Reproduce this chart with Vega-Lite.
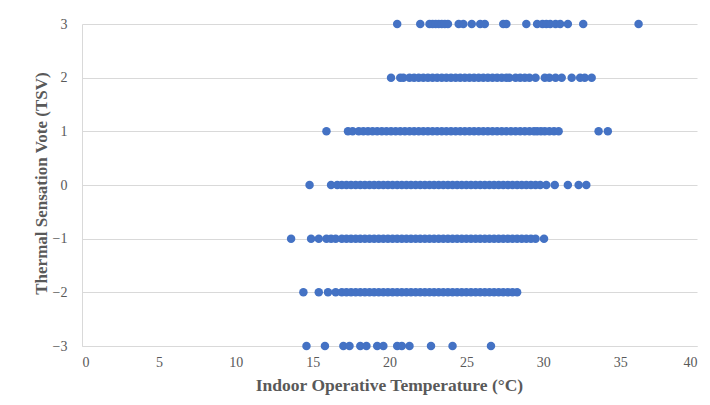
{
  "$schema": "https://vega.github.io/schema/vega-lite/v6.json",
  "width": 615,
  "height": 322,
  "autosize": {"type": "none"},
  "padding": {"left": 82, "top": 24, "right": 13, "bottom": 59},
  "background": "white",
  "config": {
    "view": {"stroke": null},
    "font": "Liberation Serif",
    "axis": {
      "labelFont": "Liberation Serif",
      "titleFont": "Liberation Serif",
      "labelColor": "#595959",
      "titleColor": "#595959",
      "labelFontSize": 14,
      "titleFontSize": 17.5,
      "titleFontWeight": "bold",
      "ticks": false,
      "domainColor": "#d9d9d9",
      "gridColor": "#d9d9d9",
      "gridWidth": 1
    }
  },
  "data": {
    "values": [
      {"t": 20.5, "v": 3}, {"t": 22.0, "v": 3}, {"t": 22.6, "v": 3}, {"t": 22.8, "v": 3}, {"t": 23.0, "v": 3}, {"t": 23.2, "v": 3}, {"t": 23.4, "v": 3}, {"t": 23.6, "v": 3}, {"t": 23.8, "v": 3}, {"t": 24.5, "v": 3}, {"t": 24.8, "v": 3}, {"t": 25.35, "v": 3}, {"t": 25.9, "v": 3}, {"t": 26.2, "v": 3}, {"t": 27.4, "v": 3}, {"t": 27.6, "v": 3}, {"t": 28.9, "v": 3}, {"t": 29.6, "v": 3}, {"t": 29.95, "v": 3}, {"t": 30.2, "v": 3}, {"t": 30.45, "v": 3}, {"t": 30.8, "v": 3}, {"t": 31.1, "v": 3}, {"t": 31.6, "v": 3}, {"t": 32.6, "v": 3}, {"t": 36.2, "v": 3},

      {"t": 20.1, "v": 2}, {"t": 20.7, "v": 2}, {"t": 20.9, "v": 2}, {"t": 21.3, "v": 2}, {"t": 21.6, "v": 2}, {"t": 21.9, "v": 2}, {"t": 22.2, "v": 2}, {"t": 22.5, "v": 2}, {"t": 22.8, "v": 2}, {"t": 23.1, "v": 2}, {"t": 23.4, "v": 2}, {"t": 23.7, "v": 2}, {"t": 24.0, "v": 2}, {"t": 24.3, "v": 2}, {"t": 24.6, "v": 2}, {"t": 24.9, "v": 2}, {"t": 25.2, "v": 2}, {"t": 25.5, "v": 2}, {"t": 25.8, "v": 2}, {"t": 26.1, "v": 2}, {"t": 26.4, "v": 2}, {"t": 26.7, "v": 2}, {"t": 27.0, "v": 2}, {"t": 27.3, "v": 2}, {"t": 27.6, "v": 2}, {"t": 27.8, "v": 2}, {"t": 28.2, "v": 2}, {"t": 28.5, "v": 2}, {"t": 28.8, "v": 2}, {"t": 29.1, "v": 2}, {"t": 29.5, "v": 2}, {"t": 30.1, "v": 2}, {"t": 30.4, "v": 2}, {"t": 30.8, "v": 2}, {"t": 31.2, "v": 2}, {"t": 31.85, "v": 2}, {"t": 32.4, "v": 2}, {"t": 32.7, "v": 2}, {"t": 33.15, "v": 2},

      {"t": 15.9, "v": 1}, {"t": 17.3, "v": 1}, {"t": 17.6, "v": 1}, {"t": 18.0, "v": 1}, {"t": 18.3, "v": 1}, {"t": 18.6, "v": 1}, {"t": 18.9, "v": 1}, {"t": 19.2, "v": 1}, {"t": 19.5, "v": 1}, {"t": 19.8, "v": 1}, {"t": 20.1, "v": 1}, {"t": 20.4, "v": 1}, {"t": 20.7, "v": 1}, {"t": 21.0, "v": 1}, {"t": 21.3, "v": 1}, {"t": 21.6, "v": 1}, {"t": 21.9, "v": 1}, {"t": 22.2, "v": 1}, {"t": 22.5, "v": 1}, {"t": 22.8, "v": 1}, {"t": 23.1, "v": 1}, {"t": 23.4, "v": 1}, {"t": 23.7, "v": 1}, {"t": 24.0, "v": 1}, {"t": 24.3, "v": 1}, {"t": 24.6, "v": 1}, {"t": 24.9, "v": 1}, {"t": 25.2, "v": 1}, {"t": 25.5, "v": 1}, {"t": 25.8, "v": 1}, {"t": 26.1, "v": 1}, {"t": 26.4, "v": 1}, {"t": 26.7, "v": 1}, {"t": 27.0, "v": 1}, {"t": 27.3, "v": 1}, {"t": 27.6, "v": 1}, {"t": 27.9, "v": 1}, {"t": 28.2, "v": 1}, {"t": 28.5, "v": 1}, {"t": 28.8, "v": 1}, {"t": 29.1, "v": 1}, {"t": 29.4, "v": 1}, {"t": 29.6, "v": 1}, {"t": 29.85, "v": 1}, {"t": 30.1, "v": 1}, {"t": 30.4, "v": 1}, {"t": 30.7, "v": 1}, {"t": 31.0, "v": 1}, {"t": 33.6, "v": 1}, {"t": 34.2, "v": 1},

      {"t": 14.8, "v": 0}, {"t": 16.2, "v": 0}, {"t": 16.6, "v": 0}, {"t": 16.9, "v": 0}, {"t": 17.2, "v": 0}, {"t": 17.5, "v": 0}, {"t": 17.8, "v": 0}, {"t": 18.1, "v": 0}, {"t": 18.4, "v": 0}, {"t": 18.7, "v": 0}, {"t": 19.0, "v": 0}, {"t": 19.3, "v": 0}, {"t": 19.6, "v": 0}, {"t": 19.9, "v": 0}, {"t": 20.2, "v": 0}, {"t": 20.5, "v": 0}, {"t": 20.8, "v": 0}, {"t": 21.1, "v": 0}, {"t": 21.4, "v": 0}, {"t": 21.7, "v": 0}, {"t": 22.0, "v": 0}, {"t": 22.3, "v": 0}, {"t": 22.6, "v": 0}, {"t": 22.9, "v": 0}, {"t": 23.2, "v": 0}, {"t": 23.5, "v": 0}, {"t": 23.8, "v": 0}, {"t": 24.1, "v": 0}, {"t": 24.4, "v": 0}, {"t": 24.7, "v": 0}, {"t": 25.0, "v": 0}, {"t": 25.3, "v": 0}, {"t": 25.6, "v": 0}, {"t": 25.9, "v": 0}, {"t": 26.2, "v": 0}, {"t": 26.5, "v": 0}, {"t": 26.8, "v": 0}, {"t": 27.1, "v": 0}, {"t": 27.4, "v": 0}, {"t": 27.7, "v": 0}, {"t": 28.0, "v": 0}, {"t": 28.3, "v": 0}, {"t": 28.6, "v": 0}, {"t": 28.9, "v": 0}, {"t": 29.2, "v": 0}, {"t": 29.5, "v": 0}, {"t": 29.8, "v": 0}, {"t": 30.2, "v": 0}, {"t": 30.75, "v": 0}, {"t": 31.6, "v": 0}, {"t": 32.3, "v": 0}, {"t": 32.8, "v": 0},

      {"t": 13.6, "v": -1}, {"t": 14.9, "v": -1}, {"t": 15.4, "v": -1}, {"t": 15.9, "v": -1}, {"t": 16.2, "v": -1}, {"t": 16.5, "v": -1}, {"t": 16.9, "v": -1}, {"t": 17.2, "v": -1}, {"t": 17.5, "v": -1}, {"t": 17.8, "v": -1}, {"t": 18.1, "v": -1}, {"t": 18.4, "v": -1}, {"t": 18.7, "v": -1}, {"t": 19.0, "v": -1}, {"t": 19.3, "v": -1}, {"t": 19.6, "v": -1}, {"t": 19.9, "v": -1}, {"t": 20.2, "v": -1}, {"t": 20.5, "v": -1}, {"t": 20.8, "v": -1}, {"t": 21.1, "v": -1}, {"t": 21.4, "v": -1}, {"t": 21.7, "v": -1}, {"t": 22.0, "v": -1}, {"t": 22.3, "v": -1}, {"t": 22.6, "v": -1}, {"t": 22.9, "v": -1}, {"t": 23.2, "v": -1}, {"t": 23.5, "v": -1}, {"t": 23.8, "v": -1}, {"t": 24.1, "v": -1}, {"t": 24.4, "v": -1}, {"t": 24.7, "v": -1}, {"t": 25.0, "v": -1}, {"t": 25.3, "v": -1}, {"t": 25.6, "v": -1}, {"t": 25.9, "v": -1}, {"t": 26.2, "v": -1}, {"t": 26.5, "v": -1}, {"t": 26.8, "v": -1}, {"t": 27.1, "v": -1}, {"t": 27.4, "v": -1}, {"t": 27.7, "v": -1}, {"t": 28.0, "v": -1}, {"t": 28.3, "v": -1}, {"t": 28.6, "v": -1}, {"t": 28.9, "v": -1}, {"t": 29.2, "v": -1}, {"t": 29.5, "v": -1}, {"t": 30.05, "v": -1},

      {"t": 14.4, "v": -2}, {"t": 15.4, "v": -2}, {"t": 16.0, "v": -2}, {"t": 16.5, "v": -2}, {"t": 16.9, "v": -2}, {"t": 17.2, "v": -2}, {"t": 17.5, "v": -2}, {"t": 17.8, "v": -2}, {"t": 18.1, "v": -2}, {"t": 18.4, "v": -2}, {"t": 18.7, "v": -2}, {"t": 19.0, "v": -2}, {"t": 19.3, "v": -2}, {"t": 19.6, "v": -2}, {"t": 19.9, "v": -2}, {"t": 20.2, "v": -2}, {"t": 20.5, "v": -2}, {"t": 20.8, "v": -2}, {"t": 21.1, "v": -2}, {"t": 21.4, "v": -2}, {"t": 21.7, "v": -2}, {"t": 22.0, "v": -2}, {"t": 22.3, "v": -2}, {"t": 22.6, "v": -2}, {"t": 22.9, "v": -2}, {"t": 23.2, "v": -2}, {"t": 23.5, "v": -2}, {"t": 23.8, "v": -2}, {"t": 24.1, "v": -2}, {"t": 24.4, "v": -2}, {"t": 24.7, "v": -2}, {"t": 25.0, "v": -2}, {"t": 25.3, "v": -2}, {"t": 25.6, "v": -2}, {"t": 25.9, "v": -2}, {"t": 26.2, "v": -2}, {"t": 26.5, "v": -2}, {"t": 26.8, "v": -2}, {"t": 27.1, "v": -2}, {"t": 27.4, "v": -2}, {"t": 27.7, "v": -2}, {"t": 28.0, "v": -2}, {"t": 28.3, "v": -2},

      {"t": 14.6, "v": -3}, {"t": 15.8, "v": -3}, {"t": 17.0, "v": -3}, {"t": 17.4, "v": -3}, {"t": 18.1, "v": -3}, {"t": 18.5, "v": -3}, {"t": 19.2, "v": -3}, {"t": 19.6, "v": -3}, {"t": 20.5, "v": -3}, {"t": 20.8, "v": -3}, {"t": 21.3, "v": -3}, {"t": 22.7, "v": -3}, {"t": 24.1, "v": -3}, {"t": 26.6, "v": -3}
    ]
  },
  "mark": {"type": "circle", "size": 72, "color": "#4472C4", "opacity": 1},
  "encoding": {
    "x": {
      "field": "t",
      "type": "quantitative",
      "scale": {"domain": [0, 40], "nice": false, "zero": false},
      "axis": {
        "values": [0, 5, 10, 15, 20, 25, 30, 35, 40],
        "grid": false,
        "domain": true,
        "labelPadding": 9,
        "title": "Indoor Operative Temperature (°C)",
        "titleX": 307,
        "titleY": 39,
        "titleBaseline": "middle",
        "titleAlign": "center"
      }
    },
    "y": {
      "field": "v",
      "type": "quantitative",
      "scale": {"domain": [-3, 3], "nice": false, "zero": false},
      "axis": {
        "values": [-3, -2, -1, 0, 1, 2, 3],
        "grid": true,
        "domain": true,
        "labelPadding": 15,
        "title": "Thermal Sensation Vote (TSV)",
        "titleFontSize": 17,
        "titleAngle": 270,
        "titleX": -41,
        "titleY": 159,
        "titleBaseline": "middle",
        "titleAlign": "center"
      }
    }
  }
}
